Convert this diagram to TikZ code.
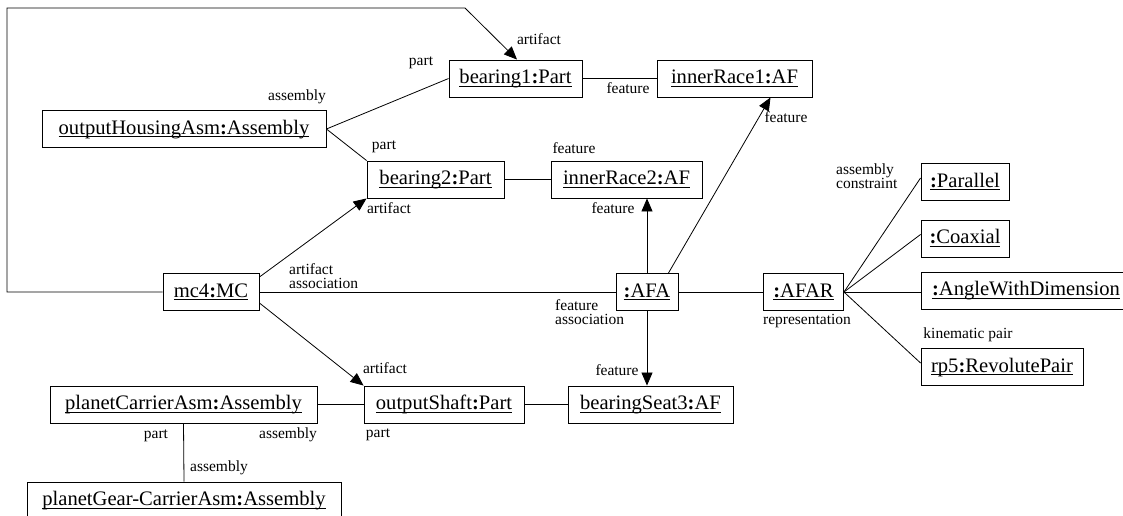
\documentclass[tikz,border=0pt]{standalone}
\usepackage{fontspec}
\setmainfont{Liberation Serif}
\usetikzlibrary{arrows.meta}
\newcommand\myul[1]{\setbox0\hbox{#1}\leavevmode\rlap{\rule[-3pt]{\wd0}{0.9pt}}\box0}
\newcommand\oname[2]{\myul{#1\textbf{:}#2}}
\begin{document}
\begin{tikzpicture}[x=1pt,y=-1pt,
  obj/.style={draw, line width=0.9pt, minimum height=37pt, inner sep=0pt,
    font=\fontsize{20.6}{24}\selectfont, text height=14.5pt, text depth=4.5pt},
  lbl/.style={inner sep=0pt, font=\fontsize{15.5}{14}\selectfont, text height=10.5pt, text depth=3pt},
  mlbl/.style={inner sep=0pt, font=\fontsize{15.5}{14}\selectfont, align=left, anchor=west},
  conn/.style={line width=0.8pt},
  arr/.style={conn, -{Triangle[length=13pt,width=11pt]}}
]
\useasboundingbox (0,0) rectangle (1123,516);

% objects
\node[obj, minimum width=284pt] (ohs) at (184,129) {\oname{outputHousingAsm}{Assembly}};
\node[obj, minimum width=133pt] (b1) at (515.5,78.5) {\oname{bearing1}{Part}};
\node[obj, minimum width=155pt] (ir1) at (734.5,78.5) {\oname{innerRace1}{AF}};
\node[obj, minimum width=137pt] (b2) at (435.5,179.5) {\oname{bearing2}{Part}};
\node[obj, minimum width=151pt] (ir2) at (626.5,179.5) {\oname{innerRace2}{AF}};
\node[obj, minimum width=96pt] (mc4) at (211,292) {\oname{mc4}{MC}};
\node[obj, minimum width=62pt] (afa) at (647,292) {\myul{\textbf{:}AFA}};
\node[obj, minimum width=80pt] (afar) at (803.5,292) {\myul{\textbf{:}AFAR}};
\node[obj, minimum width=88pt] (par) at (965,182) {\myul{\textbf{:}Parallel}};
\node[obj, minimum width=88pt] (coax) at (965,238.5) {\myul{\textbf{:}Coaxial}};
\node[obj, minimum width=210pt] (awd) at (1026,290.5) {\myul{\textbf{:}AngleWithDimension}};
\node[obj, minimum width=162pt] (rp5) at (1002,367) {\oname{rp5}{RevolutePair}};
\node[obj, minimum width=160pt] (os) at (444,404.5) {\oname{outputShaft}{Part}};
\node[obj, minimum width=165pt] (bs3) at (650.5,404.5) {\oname{bearingSeat3}{AF}};
\node[obj, minimum width=267pt] (pca) at (183.5,404.5) {\oname{planetCarrierAsm}{Assembly}};
\node[obj, minimum width=314pt] (pgca) at (184,500.5) {\oname{planetGear-CarrierAsm}{Assembly}};

% loop coordinates
\coordinate (lp1) at (7,292);
\coordinate (lp2) at (7,8);
\coordinate (lp3) at (465,8);

% connectors
\draw[arr] (mc4.west) -- (lp1) -- (lp2) -- (lp3) -- ([xshift=1.5pt]b1.north);
\draw[conn] (ohs.east) -- (b1.west);
\draw[conn] (ohs.east) -- (b2.north west);
\draw[conn] (b1.east) -- (ir1.west);
\draw[conn] (b2.east) -- (ir2.west);
\draw[arr] ([yshift=15pt]mc4.east) -- (b2.south west);
\draw[arr] ([yshift=-11pt]mc4.east) -- (os.north west);
\draw[conn] (mc4.east) -- (afa.west);
\draw[conn] (afa.east) -- (afar.west);
\draw[arr] (afa.north) -- (afa.north |- ir2.south);
\draw[arr] (afa.south) -- (afa.south |- bs3.north);
\draw[arr] ([xshift=-10pt]afa.north east) -- ([xshift=36pt]ir1.south);
\draw[conn] (afar.east) -- ([yshift=4pt]par.west);
\draw[conn] (afar.east) -- ([yshift=4pt]coax.west);
\draw[conn] (afar.east) -- (awd.west |- afar.east);
\draw[conn] (afar.east) -- ([yshift=4pt]rp5.west);
\draw[conn] (os.east) -- (bs3.west);
\draw[conn] (pca.east) -- (os.west);
\draw[conn] (pca.south) -- (pgca.north);

% labels
\node[lbl] (l1) at (539,41) {artifact};
\node[lbl] (l2) at (421,62) {part};
\node[lbl] (l3) at (297,97) {assembly};
\node[lbl] (l4) at (384,146) {part};
\node[lbl] (l5) at (628,90) {feature};
\node[lbl] (l6) at (574,150) {feature};
\node[lbl] (l7) at (786,119) {feature};
\node[lbl] (l8) at (389,210) {artifact};
\node[lbl] (l9) at (613,210) {feature};
\node[mlbl] (l10) at (289,276) {artifact\\association};
\node[mlbl] (l11) at (555,312) {feature\\association};
\node[lbl] (l12) at (807,321) {representation};
\node[mlbl] (l13) at (836,176) {assembly\\constraint};
\node[lbl] (l14) at (968,335) {kinematic pair};
\node[lbl] (l15) at (617,372) {feature};
\node[lbl] (l16) at (385,370) {artifact};
\node[lbl] (l17) at (378,434) {part};
\node[lbl] (l18) at (288,435) {assembly};
\node[lbl] (l19) at (156,435) {part};
\node[lbl] (l20) at (219,468) {assembly};
\end{tikzpicture}
\end{document}
